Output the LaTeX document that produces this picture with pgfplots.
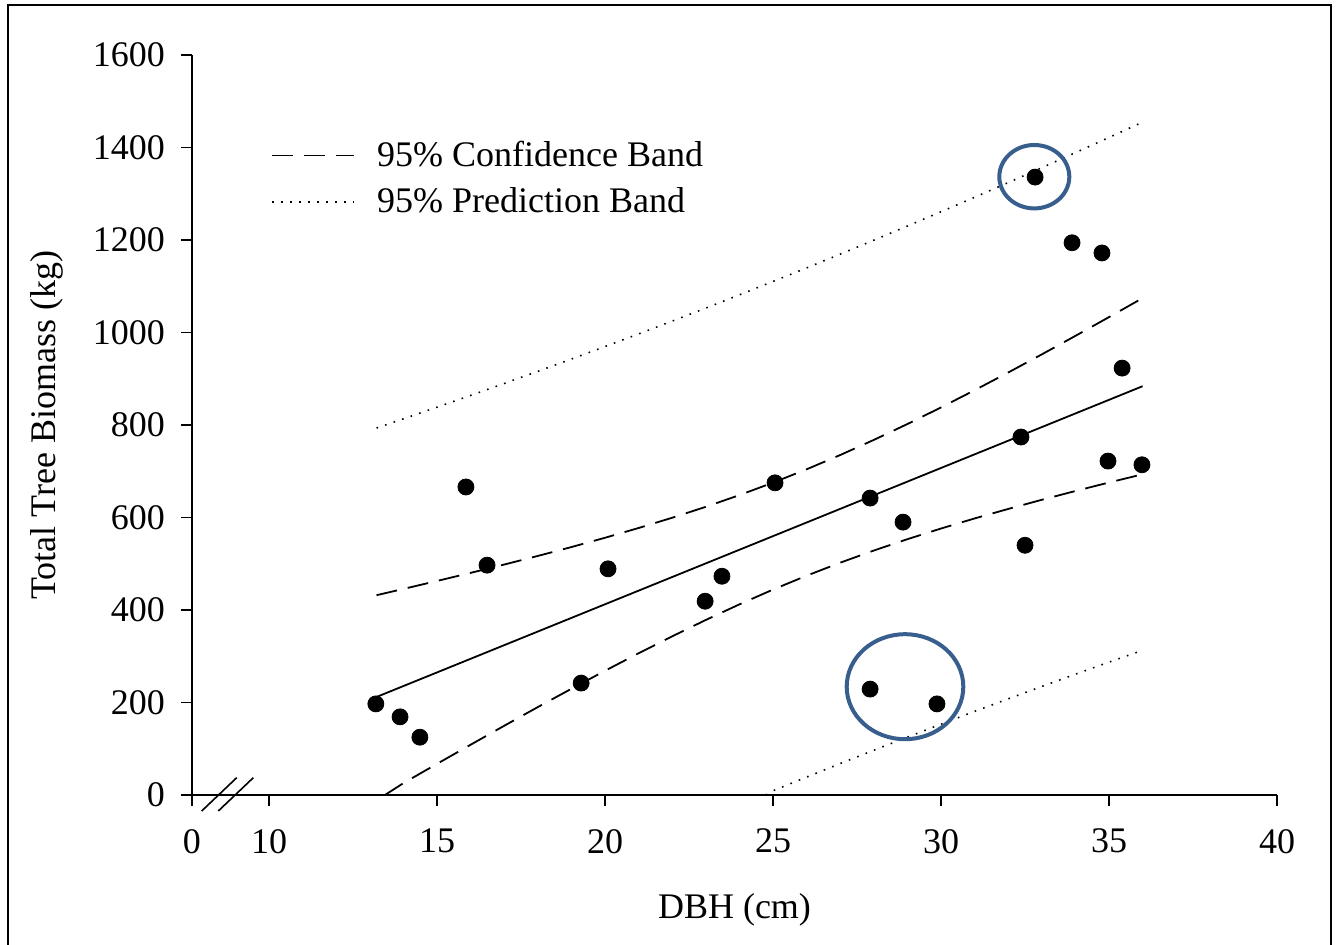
\documentclass[border=0pt]{standalone}
\usepackage{fontspec}
\setmainfont{Liberation Serif}
\usepackage{pgfplots}
\usepackage{pgfplotstable}
\pgfplotsset{compat=1.18}
\definecolor{ringblue}{RGB}{56,94,142}

\pgfplotstableread{
x y
13.18 197
13.90 169
14.49 125
15.86 666
16.49 497
19.29 242
20.09 489
22.98 419
23.48 473
25.06 675
27.89 642
27.89 229
28.87 590
29.88 197
32.38 774
32.50 540
32.80 1336
33.90 1194
34.79 1172
34.97 722
35.39 923
35.98 714
}\pts

\pgfplotstableread{
x y
13.2 212.0
36.0 883.9
}\fit

\pgfplotstableread{
x y
13.2 432.0
14 445.6
15 462.8
16 480.3
17 498.3
18 516.9
19 536.1
20 556.2
21 577.3
22 599.5
23 623.1
24 648.4
25 675.4
26 704.2
27 735.1
28 767.8
29 802.1
30 838.0
31 875.2
32 913.5
33 952.7
34 992.7
35 1033.3
36 1074.4
}\cbup

\pgfplotstableread{
x y
13.45 0
14 25.7
15 67.4
16 108.7
17 149.7
18 190.1
19 229.7
20 268.6
21 306.5
22 343.1
23 378.5
24 412.2
25 444.2
26 474.2
27 502.3
28 528.6
29 553.1
30 576.2
31 598.0
32 618.5
33 638.3
34 657.3
35 675.7
36 693.4
}\cblo

\pgfplotstableread{
x y
13.2 793.5
14 813.4
15 838.5
16 863.9
17 889.8
18 916.0
19 942.6
20 969.6
21 996.9
22 1024.6
23 1052.8
24 1081.4
25 1110.4
26 1139.6
27 1169.4
28 1199.6
29 1230.1
30 1261.1
31 1292.4
32 1324.1
33 1356.3
34 1388.8
35 1421.7
36 1454.9
}\pbup

\pgfplotstableread{
x y
24.79 0
25 9.2
26 38.8
27 68.0
28 96.8
29 125.1
30 153.1
31 180.8
32 207.9
33 234.7
34 261.2
35 287.3
36 312.9
}\pblo

\begin{document}
\begin{tikzpicture}
\useasboundingbox (-96pt,-74.5pt) rectangle (572pt,397.5pt);
\draw[line width=0.9pt] (-92pt,-80pt) -- (-92pt,395pt) -- (569.5pt,395pt) -- (569.5pt,-80pt);
\begin{axis}[
  at={(0pt,0pt)}, anchor=south west,
  scale only axis, width=542.5pt, height=370pt,
  xmin=7.708, xmax=40, ymin=0, ymax=1600,
  enlargelimits=false,
  axis lines=left, axis line style={-, line width=0.8pt},
  tick align=outside, major tick length=5.5pt,
  tick style={black, line width=0.8pt},
  xtick={7.708,10,15,20,25,30,35,40},
  xticklabels={0,10,15,20,25,30,35,40},
  ytick={0,200,...,1600},
  yticklabel style={/pgf/number format/1000 sep={}, /pgf/number format/assume math mode=true, xshift=-4.5pt},
  xticklabel style={yshift=-8pt},
  tick label style={font=\fontsize{18}{21}\selectfont},
  label style={font=\fontsize{18}{21}\selectfont},
  xlabel={DBH (cm)}, ylabel={Total Tree Biomass (kg)},
  x label style={at={(axis description cs:0.5,-0.1554)}, anchor=center},
  y label style={at={(axis description cs:-0.1336,0.5)}, anchor=center, rotate=0},
  legend style={draw=none, fill=none, at={(axis description cs:0,1)}, anchor=north west,
    xshift=36.5pt, yshift=-39pt, font=\fontsize{18}{21}\selectfont, row sep=5pt, column sep=9pt},
  legend cell align=left,
  legend image code/.code={\draw[#1] (0pt,0pt) -- (41pt,0pt);},
]
\addplot[black, line width=0.9pt, forget plot] table[x=x,y=y] {\fit};
\addplot[black, line width=0.9pt, dash pattern=on 10.5pt off 5.5pt] table[x=x,y=y] {\cbup};
\addlegendentry{95\% Confidence Band}
\addplot[black, line width=0.8pt, dash pattern=on 0.8pt off 3.7pt] table[x=x,y=y] {\pbup};
\addlegendentry{95\% Prediction Band}
\addplot[black, line width=0.9pt, dash pattern=on 10.5pt off 5.5pt, forget plot] table[x=x,y=y] {\cblo};
\addplot[black, line width=0.8pt, dash pattern=on 0.8pt off 3.7pt, forget plot] table[x=x,y=y] {\pblo};
\addplot[only marks, mark=*, mark size=4pt, black, forget plot] table[x=x,y=y] {\pts};
\end{axis}
\draw[line width=0.8pt] (4.85pt,-8pt) -- (22.35pt,8.65pt);
\draw[line width=0.8pt] (13.15pt,-8pt) -- (30.65pt,8.65pt);
\draw[ringblue, line width=2pt] (421.15pt,309.15pt) ellipse [x radius=17.5pt, y radius=15.85pt];
\draw[ringblue, line width=2pt] (356.5pt,54.15pt) ellipse [x radius=29.15pt, y radius=26.25pt];
\end{tikzpicture}
\end{document}
